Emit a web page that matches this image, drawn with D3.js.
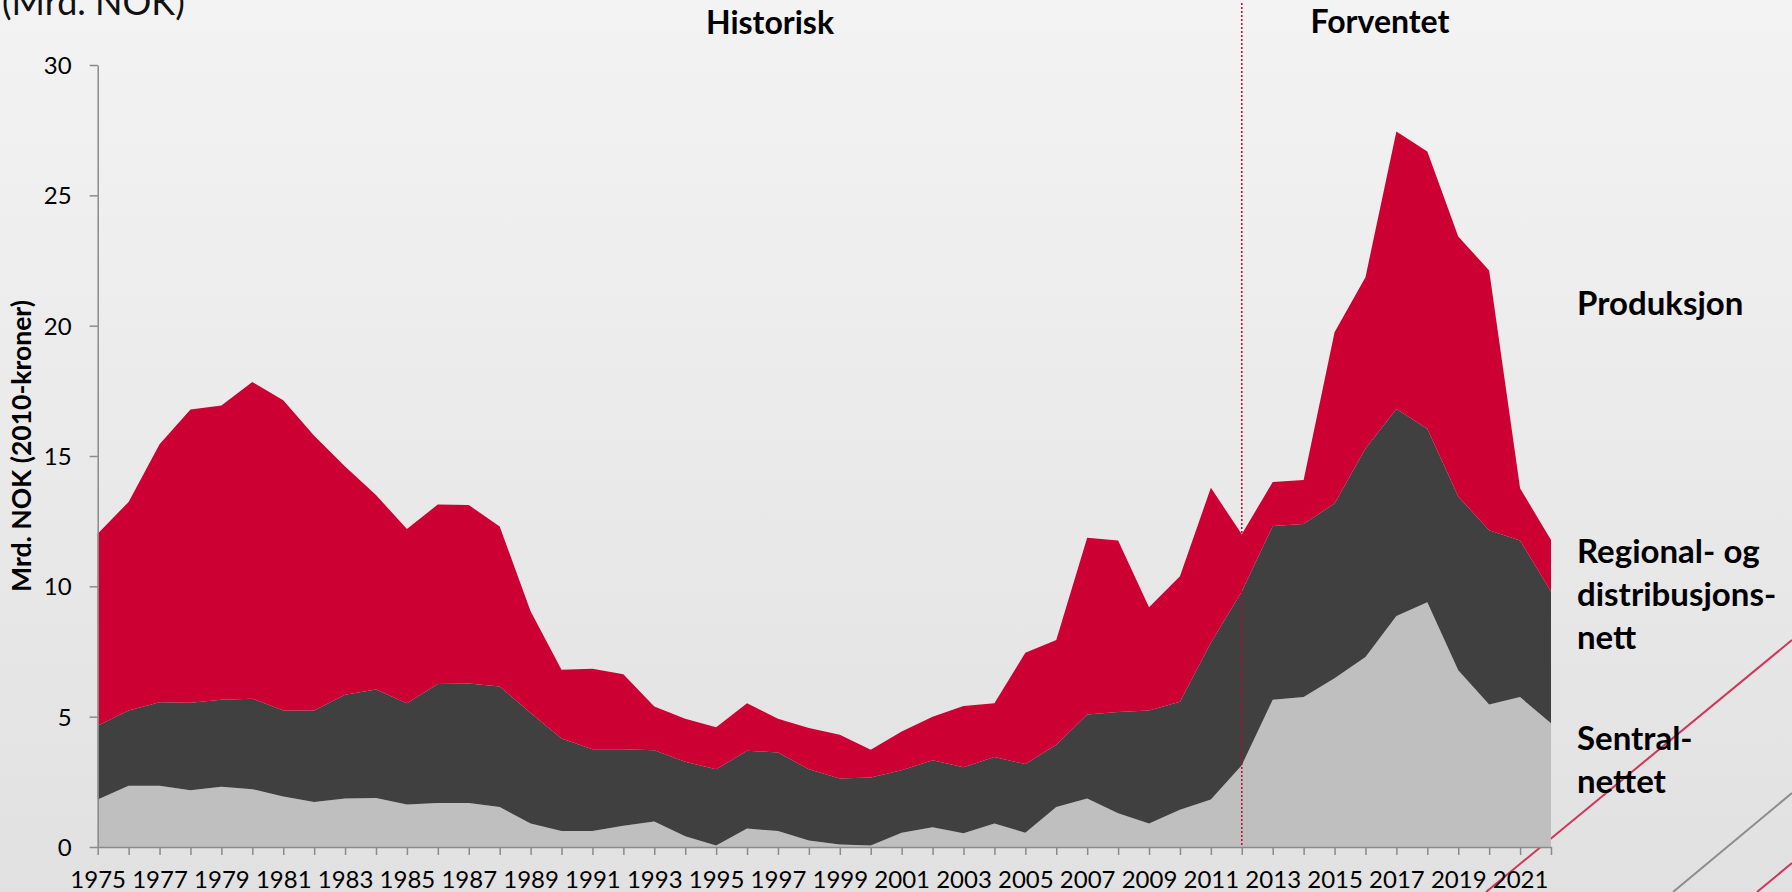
<!DOCTYPE html>
<html>
<head>
<meta charset="utf-8">
<script src="https://cdn.jsdelivr.net/npm/d3@7"></script>
<style>
  html, body { margin: 0; padding: 0; }
  body { width: 1792px; height: 892px; overflow: hidden; }
  svg { display: block; }
  .tick text { font-family: Lato, sans-serif; fill: #000; }
  .axis path, .axis line { stroke: #8a8a8a; stroke-width: 1.5px; }
</style>
</head>
<body>
<script>
// years on the category axis
var years = d3.range(1975, 2023);

// investment, mrd. NOK (2010-kroner)
var sentralnett = [1.82, 2.35, 2.35, 2.18, 2.31, 2.22, 1.94, 1.73, 1.86, 1.88,
  1.63, 1.69, 1.69, 1.53, 0.90, 0.61, 0.61, 0.82, 0.98, 0.41,
  0.06, 0.71, 0.61, 0.25, 0.10, 0.06, 0.55, 0.76, 0.53, 0.90,
  0.55, 1.53, 1.86, 1.29, 0.90, 1.43, 1.82, 3.14, 5.65, 5.75,
  6.47, 7.29, 8.86, 9.39, 6.78, 5.47, 5.75, 4.75];

var regionalnett = [2.83, 2.89, 3.20, 3.35, 3.34, 3.47, 3.30, 3.51, 3.98, 4.16,
  3.88, 4.56, 4.58, 4.63, 4.24, 3.55, 3.14, 2.93, 2.73, 2.86,
  2.92, 2.98, 3.02, 2.73, 2.53, 2.61, 2.39, 2.57, 2.53, 2.55,
  2.63, 2.39, 3.22, 3.89, 4.34, 4.14, 6.02, 6.66, 6.66, 6.64,
  6.71, 8.00, 7.94, 6.66, 6.67, 6.68, 6.01, 5.05];

var produksjon = [7.37, 8.00, 9.90, 11.25, 11.29, 12.15, 11.90, 10.54, 8.76, 7.46,
  6.69, 6.89, 6.85, 6.14, 3.90, 2.64, 3.09, 2.88, 1.68, 1.65,
  1.61, 1.82, 1.29, 1.59, 1.68, 1.06, 1.49, 1.67, 2.35, 2.06,
  4.27, 4.02, 6.78, 6.58, 3.96, 4.82, 5.94, 2.20, 1.69, 1.69,
  6.57, 6.57, 10.65, 10.63, 9.97, 9.97, 2.00, 1.98];

var yTicks = [0, 5, 10, 15, 20, 25, 30];
var splitYear = 2012;

var W = 1792, H = 892;
var plotLeft = 97.7, plotRight = 1551, plotTop = 65, plotBottom = 847;

var svg = d3.select("body").append("svg")
  .attr("width", W)
  .attr("height", H);

// slide background
var defs = svg.append("defs");
var grad = defs.append("linearGradient")
  .attr("id", "bg").attr("x1", 0).attr("y1", 0).attr("x2", 0).attr("y2", 1);
grad.append("stop").attr("offset", "0%").attr("stop-color", "#f3f3f3");
grad.append("stop").attr("offset", "100%").attr("stop-color", "#e1e1e1");
svg.append("rect").attr("width", W).attr("height", H).attr("fill", "url(#bg)");

// decorative slide lines in the lower right corner
var deco = [
  {x1: 1486, y1: 892, x2: 1792, y2: 640, c: "#d0345a"},
  {x1: 1673, y1: 892, x2: 1792, y2: 793, c: "#8c8c8c"},
  {x1: 1757, y1: 892, x2: 1792, y2: 863, c: "#d0345a"}
];
svg.selectAll("line.deco").data(deco).enter().append("line")
  .attr("class", "deco")
  .attr("x1", function (d) { return d.x1; })
  .attr("y1", function (d) { return d.y1; })
  .attr("x2", function (d) { return d.x2; })
  .attr("y2", function (d) { return d.y2; })
  .attr("stroke", function (d) { return d.c; })
  .attr("stroke-width", 2);

var x = d3.scaleLinear().domain([1975, 2022]).range([plotLeft, plotRight]);
var y = d3.scaleLinear().domain([0, 30]).range([plotBottom, plotTop]);

var rows = years.map(function (yr, i) {
  return {year: yr, sentral: sentralnett[i], regional: regionalnett[i], produksjon: produksjon[i]};
});

var keys = ["sentral", "regional", "produksjon"];
var colors = {sentral: "#bfbfbf", regional: "#404040", produksjon: "#cc0033"};

var stacked = d3.stack().keys(keys)(rows);

var area = d3.area()
  .x(function (d) { return x(d.data.year); })
  .y0(function (d) { return y(d[0]); })
  .y1(function (d) { return y(d[1]); });

svg.append("g").selectAll("path")
  .data(stacked)
  .enter().append("path")
  .attr("d", area)
  .attr("fill", function (d) { return colors[d.key]; });

// historic / expected divider
svg.append("line")
  .attr("x1", x(splitYear)).attr("x2", x(splitYear))
  .attr("y1", 3).attr("y2", plotBottom)
  .attr("stroke", "#cc0033")
  .attr("stroke-width", 1.5)
  .attr("stroke-dasharray", "2,2");

// axes
var xAxis = d3.axisBottom(x)
  .tickValues(years)
  .tickSize(8)
  .tickSizeOuter(0)
  .tickFormat(function (d) { return (d - 1975) % 2 === 0 ? String(d) : ""; });

var gx = svg.append("g").attr("class", "axis")
  .attr("transform", "translate(0," + plotBottom + ")")
  .call(xAxis);
gx.selectAll("text").attr("y", 41).attr("dy", 0).style("font-size", "24px");

var yAxis = d3.axisLeft(y)
  .tickValues(yTicks)
  .tickSize(8)
  .tickSizeOuter(0)
  .tickPadding(18);

var gy = svg.append("g").attr("class", "axis")
  .attr("transform", "translate(" + plotLeft + ",0)")
  .call(yAxis);
gy.selectAll("text").attr("dy", "0.36em").style("font-size", "24px");

// y axis title
svg.append("text")
  .attr("transform", "translate(31,446) rotate(-90)")
  .attr("text-anchor", "middle")
  .style("font-family", "Lato, sans-serif")
  .style("font-weight", "bold")
  .style("font-size", "26.5px")
  .text("Mrd. NOK (2010-kroner)");

// unit text at the very top (cut by the slide edge)
svg.append("text")
  .attr("x", 2).attr("y", 15)
  .style("font-family", "Lato, sans-serif")
  .style("font-size", "36px")
  .style("fill", "#111")
  .text("(Mrd. NOK)");

// period headers
var headers = [{t: "Historisk", cx: 770, by: 34}, {t: "Forventet", cx: 1380, by: 33}];
svg.selectAll("text.hdr").data(headers).enter().append("text")
  .attr("class", "hdr")
  .attr("x", function (d) { return d.cx; })
  .attr("y", function (d) { return d.by; })
  .attr("text-anchor", "middle")
  .style("font-family", "Lato, sans-serif")
  .style("font-weight", "bold")
  .style("font-size", "32px")
  .text(function (d) { return d.t; });

// series labels on the right
var labels = [
  {lines: ["Produksjon"], y: 315},
  {lines: ["Regional- og", "distribusjons-", "nett"], y: 563},
  {lines: ["Sentral-", "nettet"], y: 750}
];
labels.forEach(function (l) {
  var t = svg.append("text")
    .attr("x", 1577).attr("y", l.y)
    .style("font-family", "Lato, sans-serif")
    .style("font-weight", "bold")
    .style("font-size", "33px");
  l.lines.forEach(function (s, i) {
    t.append("tspan").attr("x", 1577).attr("dy", i === 0 ? 0 : 43).text(s);
  });
});
</script>
</body>
</html>
